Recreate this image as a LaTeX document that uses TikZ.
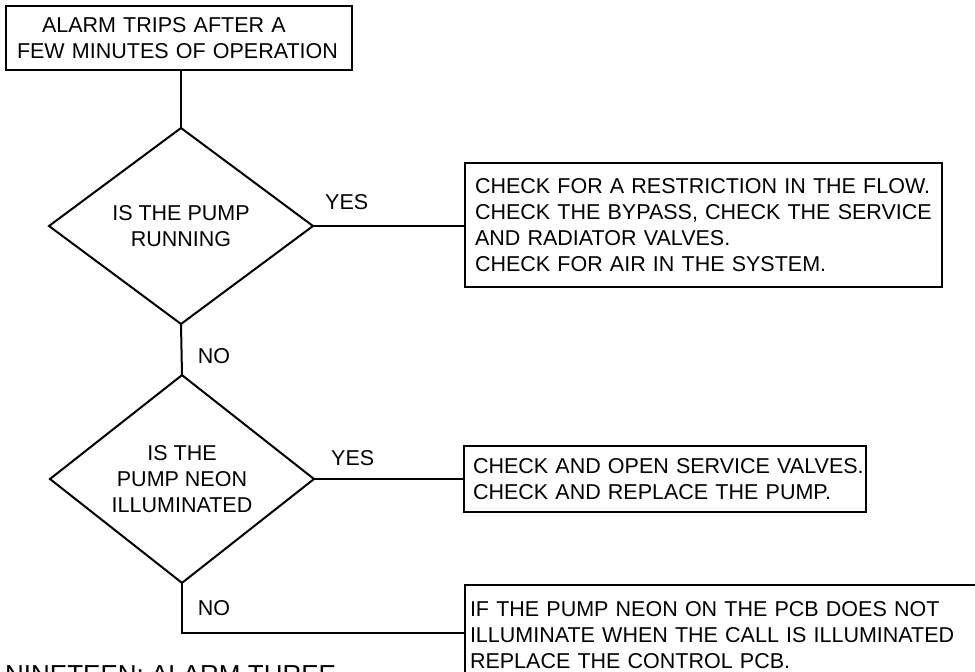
\documentclass[tikz,border=0pt]{standalone}
\usepackage{fontspec}
\setmainfont{Liberation Sans}
\usetikzlibrary{positioning}
\usetikzlibrary{shapes.geometric}
\tikzstyle{flow line}=[line width=2pt]
\tikzstyle{question}=[diamond,draw,line width=2pt,inner sep=0pt,outer sep=0pt,minimum width=264pt,minimum height=196pt,align=center]
\tikzstyle{answer}=[rectangle,draw,line width=2pt,outer sep=0pt,anchor=north west,align=left,inner xsep=10pt]
\tikzstyle{branch label}=[inner sep=0pt]
\newcommand{\flowfont}{\fontsize{21.5}{26}\selectfont}

\begin{document}
\begin{tikzpicture}[x=1pt,y=-1pt,font=\flowfont]
  \useasboundingbox (0,0) rectangle (975,672);
  \clip (0,0) rectangle (975,672);

  \node[answer,inner xsep=11pt,text width=324pt,minimum height=64pt] (start) at (6,6)
    {\hspace*{25pt}ALARM TRIPS AFTER A\\FEW MINUTES OF OPERATION};
  \node[question] (pumpq) at (181,226) {IS THE PUMP\\RUNNING};
  \node[question] (neonq) at (182,479) {IS THE\\PUMP NEON\\ILLUMINATED};

  \node[answer,text width=457pt,minimum height=124pt] (flowbox) at (465,163)
    {CHECK FOR A RESTRICTION IN THE FLOW.\\CHECK THE BYPASS, CHECK THE SERVICE\\AND RADIATOR VALVES.\\CHECK FOR AIR IN THE SYSTEM.};
  \node[answer,inner xsep=9pt,text width=384pt,minimum height=66pt] (pumpbox) at (464,446)
    {\mbox{CHECK AND OPEN SERVICE VALVES.}\\CHECK AND REPLACE THE PUMP.};
  \node[answer,inner xsep=5pt,inner ysep=16pt,text width=600pt] (pcbbox) at (465,585)
    {IF THE PUMP NEON ON THE PCB DOES NOT\\ILLUMINATE WHEN THE CALL IS ILLUMINATED\\REPLACE THE CONTROL PCB.};

  \node[branch label,above right=16pt and 12pt of pumpq.east] (yes1) {YES};
  \node[branch label,above right=13pt and 17pt of neonq.east] (yes2) {YES};
  \node[branch label] (no1) at (214,356) {NO};
  \node[branch label] (no2) at (214,608) {NO};

  \coordinate (bend) at (182,633);

  \draw[flow line] (pumpq.north |- start.south) -- (pumpq.north);
  \draw[flow line] (pumpq.east) -- (pumpq.east -| flowbox.west);
  \draw[flow line] (pumpq.south) -- (neonq.north);
  \draw[flow line] (neonq.east) -- (neonq.east -| pumpbox.west);
  \draw[flow line] (neonq.south) -- (bend) -- (bend -| pcbbox.west);

  \node[anchor=base west,inner sep=0pt,font=\fontsize{26}{30}\selectfont] (caption) at (5,683) {NINETEEN: ALARM THREE};
\end{tikzpicture}
\end{document}
